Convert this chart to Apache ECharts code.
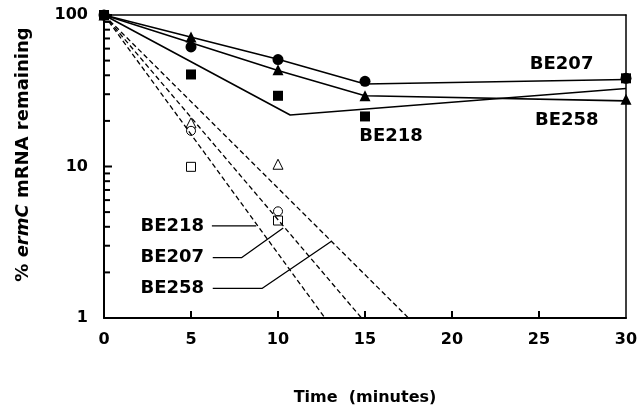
<!DOCTYPE html>
<html>
<head>
<meta charset="utf-8">
<script src="https://cdn.jsdelivr.net/npm/echarts@6/dist/echarts.min.js"></script>
<style>
  html, body { margin: 0; padding: 0; background: #fff; }
  #chart { width: 644px; height: 411px; }
</style>
</head>
<body>
<div id="chart"></div>
<script>
// sampling times (minutes)
const times = [0, 5, 10, 15, 30]
const openTimes = [5, 10]

// measured points, filled symbols
const be207Points = [100, 61.5, 50.8, 36.5, 38.2]
const be258Points = [100, 71.5, 43.5, 29.3, 27.8]
const be218Points = [100, 40.5, 29.3, 21.4, 38.2]

// measured points, open symbols
const be207Open = [17.2, 5.06]
const be258Open = [19.4, 10.35]
const be218Open = [9.95, 4.4]

// fitted solid curves
const be207FitT = [0, 10, 15, 30]
const be207FitV = [100, 51, 35, 37.5]
const be258FitT = [0, 10, 15, 30]
const be258FitV = [100, 43, 29.3, 27.1]
const be218FitT = [0, 10.7, 30]
const be218FitV = [100, 21.9, 32.7]

// fitted dashed decay lines (start at 100%, end at 1%)
const dashEndT = [12.7, 14.8, 17.5]

// tick positions (drawn inside the frame)
const xTicks = [5, 10, 15, 20, 25]
const yMajorTicks = [1, 10, 100]
const yMinorTicks = [2, 3, 4, 5, 6, 7, 8, 9, 20, 30, 40, 50, 60, 70, 80, 90]

// label leaders for the dashed lines
const leader218 = [[6.2, 4.05], [8.75, 4.05]]
const leader207 = [[6.25, 2.5], [7.9, 2.5], [10.3, 3.93]]
const leader258 = [[6.25, 1.57], [9.1, 1.57], [13.05, 3.2]]

const upperLabels = [
  { name: 'BE207', value: [26.3, 47.5] },
  { name: 'BE258', value: [26.6, 20.3] },
  { name: 'BE218', value: [16.5, 15.7] },
]
const lowerLabels = [
  { name: 'BE218', value: [5.75, 4.05] },
  { name: 'BE207', value: [5.75, 2.5] },
  { name: 'BE258', value: [5.75, 1.57] },
]

const font = 'DejaVu Sans'
const zip = (xs, ys) => xs.map((x, i) => [x, ys[i]])

const chart = echarts.init(document.getElementById('chart'))

function solid(data) {
  return {
    type: 'line', data, showSymbol: false, symbol: 'none', silent: true,
    lineStyle: { color: '#000', width: 1.6 },
  }
}
function dashed(endT) {
  return {
    type: 'line', data: [[0, 100], [endT, 1]], symbol: 'none', silent: true,
    lineStyle: { color: '#000', width: 1.3, type: [5, 3] },
  }
}
function leader(data) {
  return {
    type: 'line', data, symbol: 'none', silent: true,
    lineStyle: { color: '#000', width: 1.3 },
  }
}
function points(data, symbol, size, open) {
  return {
    type: 'scatter', data, symbol, symbolSize: size, silent: true,
    itemStyle: open
      ? { color: '#fff', borderColor: '#000', borderWidth: 1, opacity: 1 }
      : { color: '#000', opacity: 1 },
  }
}
function ticks(data, size, offset) {
  return {
    type: 'scatter', data, symbol: 'rect', symbolSize: size, symbolOffset: offset,
    silent: true, clip: false, z: 3,
    itemStyle: { color: '#000', opacity: 1 },
  }
}
function labels(data, position) {
  return {
    type: 'scatter', data, symbolSize: 0, silent: true,
    itemStyle: { opacity: 1 },
    label: {
      show: true, position, distance: 0, formatter: '{b}',
      fontFamily: font, fontWeight: 'bold', fontSize: 18, color: '#000',
    },
  }
}

// plain border axis for the top / right sides of the frame
const frame = {
  show: true,
  axisLine: { show: true, onZero: false, lineStyle: { color: '#000', width: 1.5 } },
  axisTick: { show: false },
  axisLabel: { show: false },
  splitLine: { show: false },
}

chart.setOption({
  animation: false,
  backgroundColor: '#fff',
  grid: { left: 104, right: 18, top: 15, bottom: 91 },
  xAxis: [
    {
      type: 'value', min: 0, max: 30, interval: 5,
      name: 'Time  (minutes)', nameLocation: 'middle', nameGap: 72,
      nameTextStyle: { fontFamily: font, fontWeight: 'bold', fontSize: 16, color: '#000' },
      axisLine: { onZero: false, lineStyle: { color: '#000', width: 2 } },
      axisTick: { show: false },
      axisLabel: { fontFamily: font, fontWeight: 'bold', fontSize: 16, color: '#000', margin: 14 },
      splitLine: { show: false },
    },
    { ...frame, type: 'value', min: 0, max: 30, position: 'top' },
  ],
  yAxis: [
    {
      type: 'log', logBase: 10, min: 1, max: 100,
      name: '% {i|ermC} mRNA remaining', nameLocation: 'middle', nameGap: 72,
      nameTextStyle: {
        fontFamily: font, fontWeight: 'bold', fontSize: 18, color: '#000',
        padding: [0, 0, 0, 24],
        rich: { i: { fontFamily: font, fontWeight: 'bold', fontStyle: 'italic', fontSize: 18, color: '#000' } },
      },
      axisLine: { onZero: false, lineStyle: { color: '#000', width: 2 } },
      axisTick: { show: false },
      axisLabel: { fontFamily: font, fontWeight: 'bold', fontSize: 16, color: '#000', margin: 16 },
      splitLine: { show: false },
    },
    { ...frame, type: 'log', min: 1, max: 100, position: 'right' },
  ],
  series: [
    ticks(xTicks.map(t => [t, 1]), [2, 7], [0, -3.5]),
    ticks(yMajorTicks.map(v => [0, v]), [8, 2], [4, 0]),
    ticks(yMinorTicks.map(v => [0, v]), [6, 2], [3, 0]),
    solid(zip(be207FitT, be207FitV)),
    solid(zip(be258FitT, be258FitV)),
    solid(zip(be218FitT, be218FitV)),
    ...dashEndT.map(dashed),
    leader(leader218),
    leader(leader207),
    leader(leader258),
    points(zip(openTimes, be258Open), 'triangle', 10, true),
    points(zip(openTimes, be207Open), 'circle', 9, true),
    points(zip(openTimes, be218Open), 'rect', 9, true),
    points(zip(times, be207Points), 'circle', 11, false),
    points(zip(times, be258Points), 'triangle', 11, false),
    points(zip(times, be218Points), 'rect', 10, false),
    labels(upperLabels, 'inside'),
    labels(lowerLabels, 'left'),
  ],
})
</script>
</body>
</html>
